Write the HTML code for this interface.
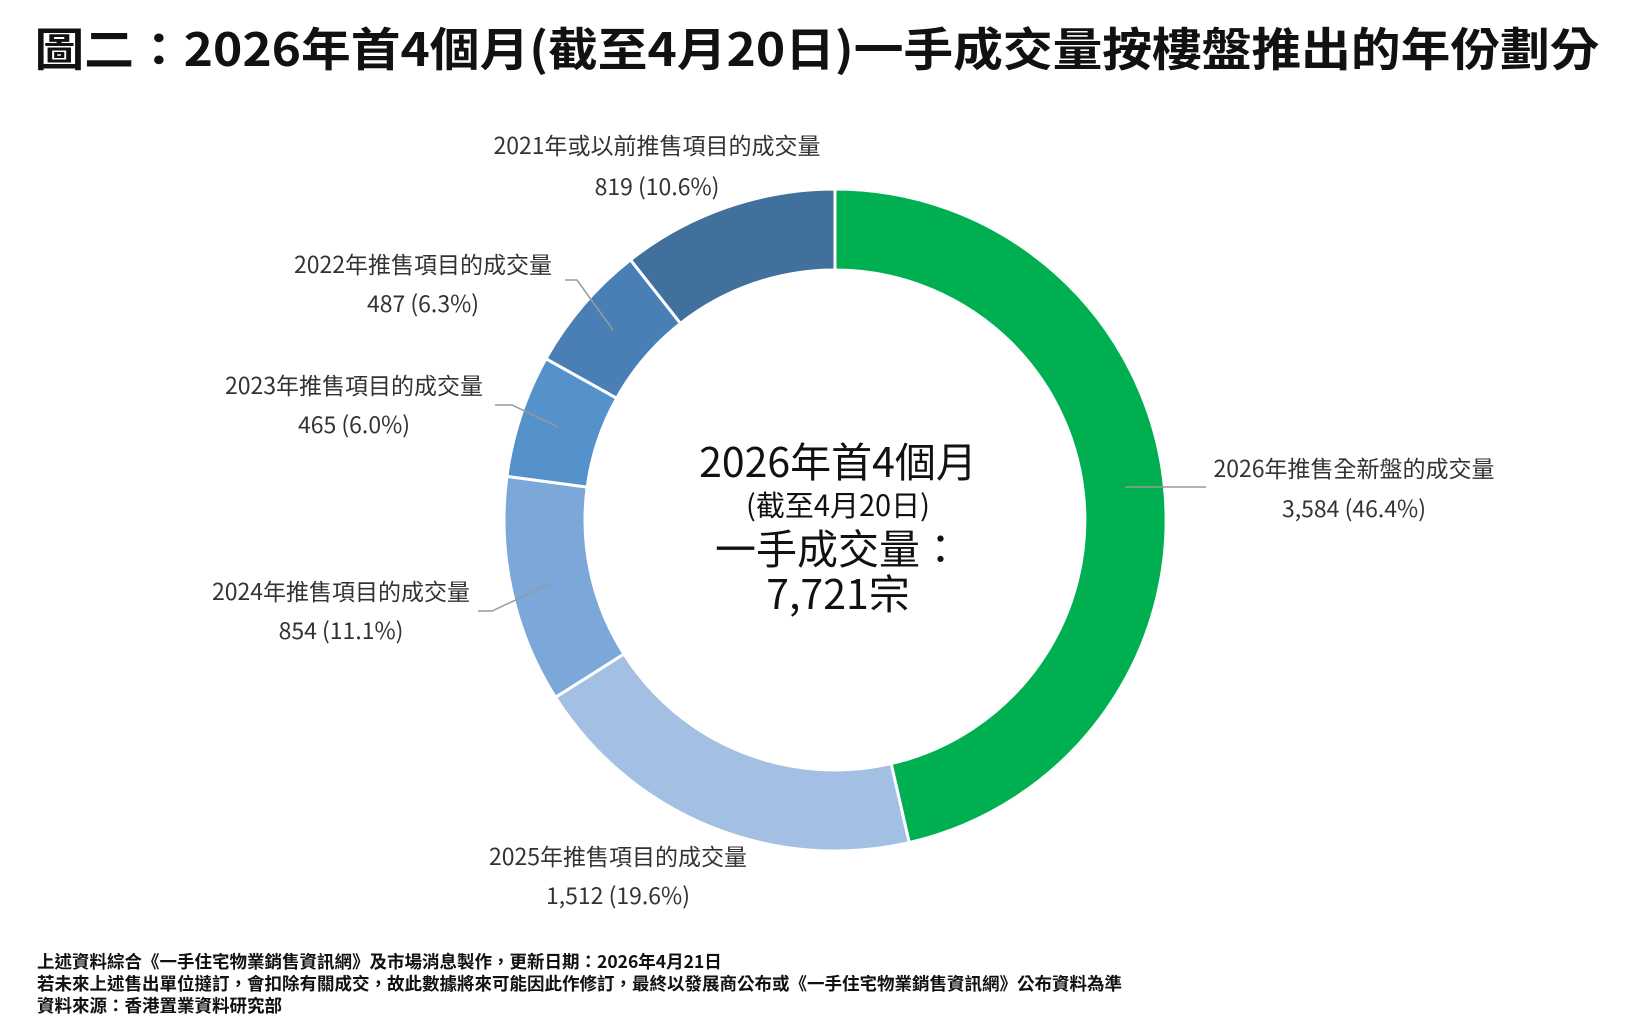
<!DOCTYPE html>
<html><head><meta charset="utf-8"><style>
body{margin:0;background:#fff;}
svg text{font-family:"Noto Sans CJK TC","Liberation Sans",sans-serif;}
</style></head><body>
<svg width="1634" height="1023" viewBox="0 0 1634 1023" xmlns="http://www.w3.org/2000/svg">
<rect width="1634" height="1023" fill="#fff"/>
<text x="817" y="66" text-anchor="middle" font-size="46" font-weight="bold" fill="#111" textLength="1565" lengthAdjust="spacingAndGlyphs">圖二：2026年首4個月(截至4月20日)一手成交量按樓盤推出的年份劃分</text>
<g stroke="#fff" stroke-width="3">
<path fill="#00B050" d="M835,189 A331,331 0 0 1 909.2,842.6 L891.1,763.6 A250,250 0 0 0 835,270 Z"/>
<path fill="#A3BFE3" d="M909.2,842.6 A331,331 0 0 1 555.5,697.3 L623.9,654.0 A250,250 0 0 0 891.1,763.6 Z"/>
<path fill="#7BA7D9" d="M555.5,697.3 A331,331 0 0 1 506.9,476.4 L587.2,487.1 A250,250 0 0 0 623.9,654.0 Z"/>
<path fill="#5591CA" d="M506.9,476.4 A331,331 0 0 1 545.9,358.7 L616.7,398.2 A250,250 0 0 0 587.2,487.1 Z"/>
<path fill="#4A7FB5" d="M545.9,358.7 A331,331 0 0 1 630.5,259.8 L680.5,323.4 A250,250 0 0 0 616.7,398.2 Z"/>
<path fill="#41709C" d="M630.5,259.8 A331,331 0 0 1 835,189 L835,270 A250,250 0 0 0 680.5,323.4 Z"/>
</g>
<g stroke="#999" stroke-width="1.5" fill="none">
<polyline points="1125,487 1206,487"/>
<polyline points="565,280 577,280 613,330"/>
<polyline points="495,405 512,405 558,427"/>
<polyline points="478,611 492,611 550,584"/>
</g>
<g font-size="23" fill="#333" text-anchor="middle">
<text x="657" y="154">2021年或以前推售項目的成交量</text>
<text x="657" y="195">819 (10.6%)</text>
<text x="423" y="273">2022年推售項目的成交量</text>
<text x="423" y="312">487 (6.3%)</text>
<text x="354" y="394">2023年推售項目的成交量</text>
<text x="354" y="433">465 (6.0%)</text>
<text x="341" y="600">2024年推售項目的成交量</text>
<text x="341" y="639">854 (11.1%)</text>
<text x="618" y="865">2025年推售項目的成交量</text>
<text x="618" y="904">1,512 (19.6%)</text>
<text x="1354" y="477">2026年推售全新盤的成交量</text>
<text x="1354" y="517">3,584 (46.4%)</text>
</g>
<g text-anchor="middle" fill="#111">
<text x="838" y="477" font-size="41">2026年首4個月</text>
<text x="838" y="516" font-size="29">(截至4月20日)</text>
<text x="838" y="564" font-size="41">一手成交量：</text>
<text x="838" y="609" font-size="41">7,721宗</text>
</g>
<g font-size="17.5" font-weight="bold" fill="#111">
<text x="37" y="968">上述資料綜合《一手住宅物業銷售資訊網》及市場消息製作，更新日期：2026年4月21日</text>
<text x="37" y="990">若未來上述售出單位撻訂，會扣除有關成交，故此數據將來可能因此作修訂，最終以發展商公布或《一手住宅物業銷售資訊網》公布資料為準</text>
<text x="37" y="1012">資料來源：香港置業資料研究部</text>
</g>
</svg>
</body></html>
